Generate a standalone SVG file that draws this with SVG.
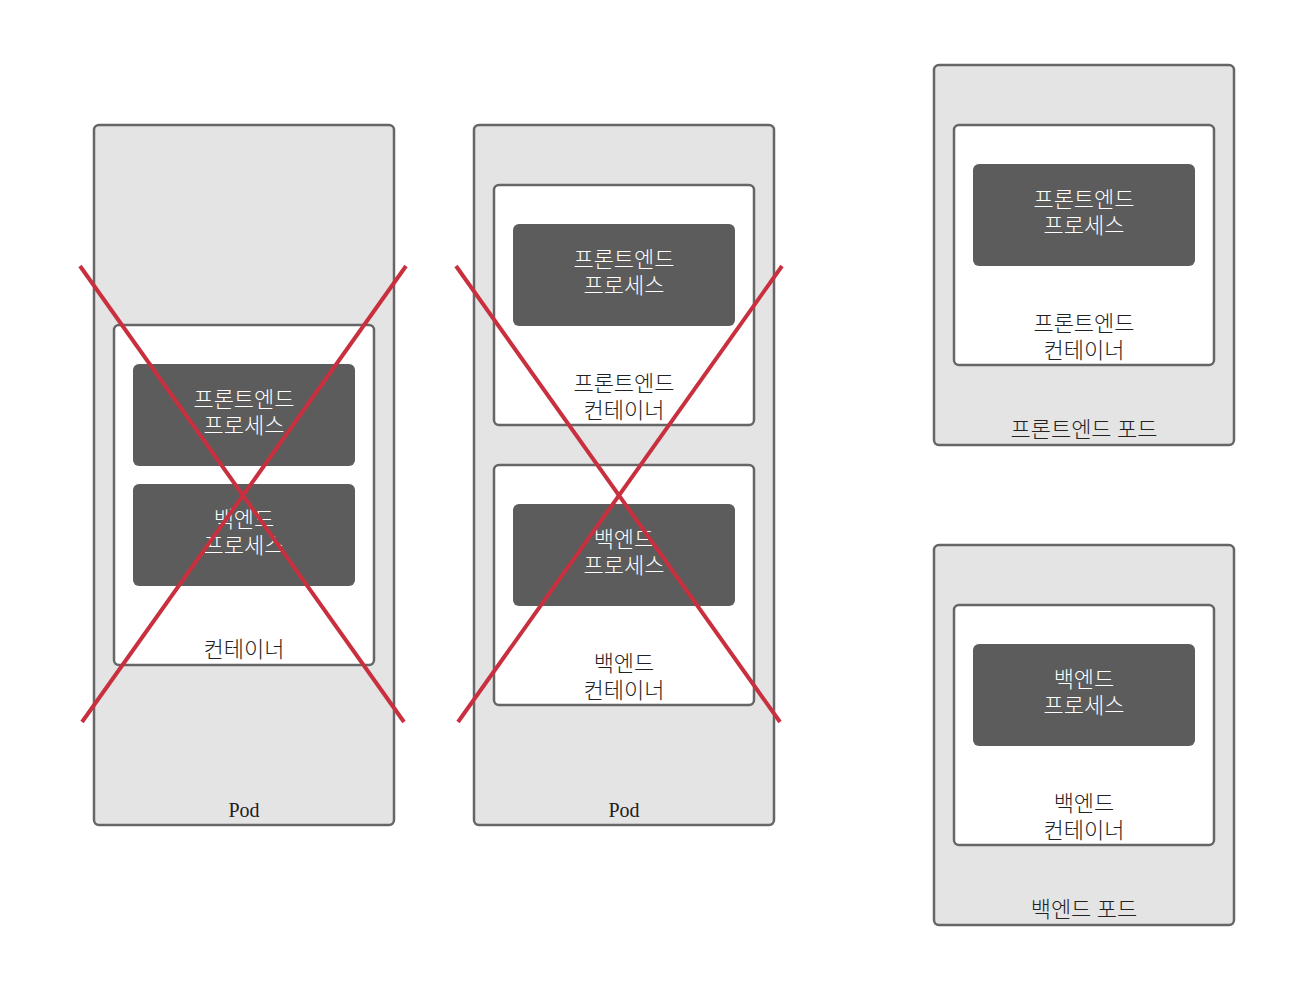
<svg xmlns="http://www.w3.org/2000/svg" width="1313" height="990" viewBox="0 0 1313 990">
<style>
.pod{fill:#e4e4e4;stroke:#666;stroke-width:2.5}
.ctr{fill:#fff;stroke:#666;stroke-width:2.5}
.proc{fill:#5c5c5c}
text{font-family:"Liberation Serif","Noto Sans CJK KR",serif;font-size:22px;text-anchor:middle;font-weight:300}
.en{font-size:20px;font-weight:400}
.dk{fill:#222}
.lt{fill:#fff}
.x{stroke:#c9303f;stroke-width:4;fill:none}
</style>
<rect width="1313" height="990" fill="#fff"/>
<g id="pod1">
<rect class="pod" x="94" y="125" width="300" height="700" rx="5"/>
<text class="dk en" x="244" y="817">Pod</text>
</g>
<g id="container1">
<rect class="ctr" x="114" y="325" width="260" height="340" rx="5"/>
<text class="dk" x="244" y="657">컨테이너</text>
</g>
<g id="proc1a">
<rect class="proc" x="133" y="364" width="222" height="102" rx="6"/>
<text class="lt" x="244" y="407">프론트엔드</text>
<text class="lt" x="244" y="433">프로세스</text>
</g>
<g id="proc1b">
<rect class="proc" x="133" y="484" width="222" height="102" rx="6"/>
<text class="lt" x="244" y="527">백엔드</text>
<text class="lt" x="244" y="553">프로세스</text>
</g>
<g id="pod2">
<rect class="pod" x="474" y="125" width="300" height="700" rx="5"/>
<text class="dk en" x="624" y="817">Pod</text>
</g>
<g id="container2a">
<rect class="ctr" x="494" y="185" width="260" height="240" rx="5"/>
<text class="dk" x="624" y="391">프론트엔드</text>
<text class="dk" x="624" y="418">컨테이너</text>
</g>
<g id="proc2a">
<rect class="proc" x="513" y="224" width="222" height="102" rx="6"/>
<text class="lt" x="624" y="267">프론트엔드</text>
<text class="lt" x="624" y="293">프로세스</text>
</g>
<g id="container2b">
<rect class="ctr" x="494" y="465" width="260" height="240" rx="5"/>
<text class="dk" x="624" y="671">백엔드</text>
<text class="dk" x="624" y="698">컨테이너</text>
</g>
<g id="proc2b">
<rect class="proc" x="513" y="504" width="222" height="102" rx="6"/>
<text class="lt" x="624" y="547">백엔드</text>
<text class="lt" x="624" y="573">프로세스</text>
</g>
<g id="pod3">
<rect class="pod" x="934" y="65" width="300" height="380" rx="5"/>
<text class="dk" x="1084" y="437">프론트엔드 포드</text>
</g>
<g id="container3">
<rect class="ctr" x="954" y="125" width="260" height="240" rx="5"/>
<text class="dk" x="1084" y="331">프론트엔드</text>
<text class="dk" x="1084" y="358">컨테이너</text>
</g>
<g id="proc3">
<rect class="proc" x="973" y="164" width="222" height="102" rx="6"/>
<text class="lt" x="1084" y="207">프론트엔드</text>
<text class="lt" x="1084" y="233">프로세스</text>
</g>
<g id="pod4">
<rect class="pod" x="934" y="545" width="300" height="380" rx="5"/>
<text class="dk" x="1084" y="917">백엔드 포드</text>
</g>
<g id="container4">
<rect class="ctr" x="954" y="605" width="260" height="240" rx="5"/>
<text class="dk" x="1084" y="811">백엔드</text>
<text class="dk" x="1084" y="838">컨테이너</text>
</g>
<g id="proc4">
<rect class="proc" x="973" y="644" width="222" height="102" rx="6"/>
<text class="lt" x="1084" y="687">백엔드</text>
<text class="lt" x="1084" y="713">프로세스</text>
</g>
<g id="connectors">
<line class="x" x1="80" y1="266" x2="404" y2="722"/>
<line class="x" x1="406" y1="266" x2="82" y2="722"/>
<line class="x" x1="456" y1="266" x2="780" y2="722"/>
<line class="x" x1="782" y1="266" x2="458" y2="722"/>
</g>
</svg>
